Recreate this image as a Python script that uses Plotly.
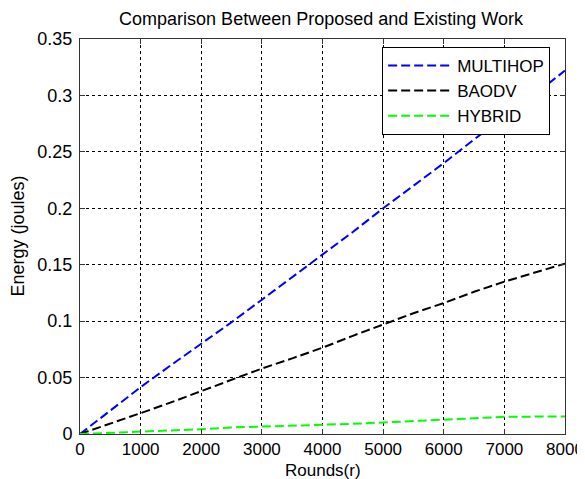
import plotly.graph_objects as go

rounds = [0, 500, 1000, 1500, 2000, 2500, 3000, 3500, 4000, 4500, 5000, 5500, 6000, 6500, 7000, 7500, 8000]
multihop = [0, 0.021, 0.0415, 0.061, 0.080, 0.099, 0.119, 0.139, 0.159, 0.179, 0.200, 0.220, 0.240, 0.261, 0.281, 0.301, 0.322]
baodv = [0, 0.009, 0.0185, 0.028, 0.038, 0.048, 0.058, 0.067, 0.0765, 0.087, 0.097, 0.107, 0.116, 0.126, 0.135, 0.143, 0.151]
hybrid = [0, 0.001, 0.002, 0.003, 0.0042, 0.0058, 0.0068, 0.0075, 0.0082, 0.009, 0.0102, 0.0115, 0.0122, 0.014, 0.0152, 0.0154, 0.0155]

x_ticks = [0, 1000, 2000, 3000, 4000, 5000, 6000, 7000, 8000]
y_ticks = [0, 0.05, 0.1, 0.15, 0.2, 0.25, 0.3, 0.35]
y_labels = ["0", "0.05", "0.1", "0.15", "0.2", "0.25", "0.3", "0.35"]

fig = go.Figure()
for name, ys, col in [("MULTIHOP", multihop, "#0000ff"), ("BAODV", baodv, "#000000"), ("HYBRID", hybrid, "#00ff00")]:
    fig.add_trace(go.Scatter(x=rounds, y=ys, mode="lines", name=name,
                             line=dict(color=col, width=2, dash="9px,4px")))

font = "Liberation Sans, Arial, sans-serif"
FS = 18
axis_common = dict(showline=True, linecolor="#333", linewidth=1, mirror="ticks",
                   ticks="inside", ticklen=5, tickcolor="#333", automargin=False,
                   showgrid=True, gridcolor="#000", gridwidth=1, griddash="3px,3px",
                   ticklabeloverflow="allow", zeroline=False)

# the page body has an 8px margin, so the figure is sized/offset to compensate
fig.update_layout(
    width=577, height=471,
    margin=dict(l=72, r=20, t=31, b=45),
    paper_bgcolor="white", plot_bgcolor="white",
    title=dict(text="Comparison Between Proposed and Existing Work", x=0.5425, xanchor="center",
               y=0.977, yanchor="middle", font=dict(family=font, size=FS, color="#000")),
    xaxis=dict(range=[0, 8000], tickvals=x_ticks, ticktext=[str(v) for v in x_ticks],
               ticklabelstandoff=0, tickfont=dict(family=font, size=17, color="#000"),
               **axis_common),
    yaxis=dict(range=[0, 0.35], tickvals=y_ticks, ticktext=y_labels,
               ticklabelstandoff=3, tickfont=dict(family=font, size=FS, color="#000"),
               **axis_common),
    annotations=[
        dict(text="Energy (joules)", xref="paper", yref="paper", x=0, y=0.5,
             xanchor="center", yanchor="middle", xshift=-63, textangle=-90,
             showarrow=False, font=dict(family=font, size=FS, color="#000")),
        dict(text="Rounds(r)", xref="paper", yref="paper", x=0.5, y=0,
             xanchor="center", yanchor="middle", yshift=-36,
             showarrow=False, font=dict(family=font, size=17, color="#000")),
    ],
    legend=dict(x=0.623, y=0.98, xanchor="left", yanchor="top", bgcolor="white",
                bordercolor="#000", borderwidth=1, font=dict(family=font, size=17, color="#000"),
                itemwidth=64, tracegroupgap=0),
    showlegend=True,
)

fig.write_html("out.html")
